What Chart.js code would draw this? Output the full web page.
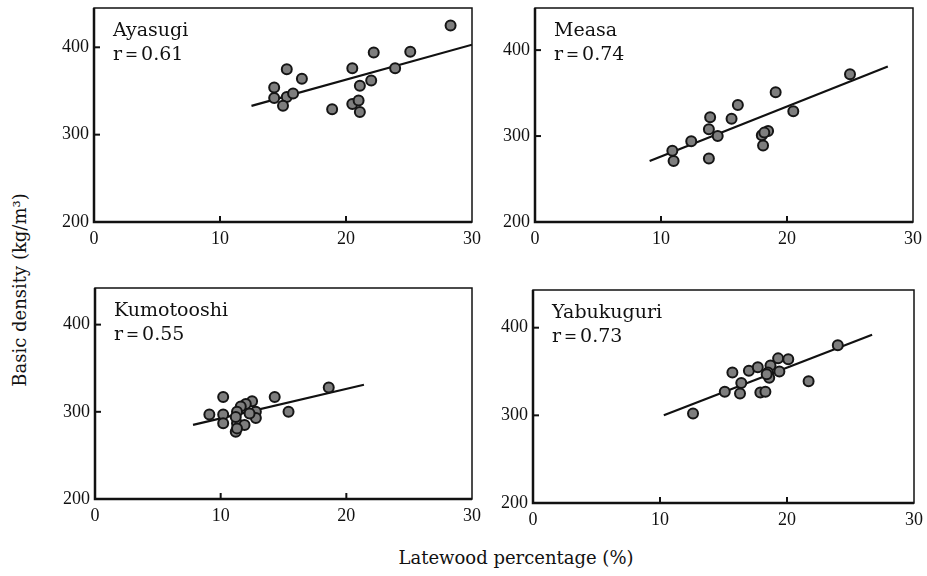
<!DOCTYPE html>
<html>
<head>
<meta charset="utf-8">
<script src="https://cdn.jsdelivr.net/npm/chart.js@4.4.1/dist/chart.umd.min.js"></script>
<style>
  html, body { margin:0; padding:0; background:#fff; }
  #wrap { position:relative; width:927px; height:576px; overflow:hidden; background:#fff; }
  canvas { position:absolute; }
  .ttl { position:absolute; font-family:"DejaVu Serif", serif; font-size:18px; color:#111; white-space:nowrap; }
</style>
</head>
<body>
<div id="wrap">
  <canvas id="c1" width="450" height="252" style="left:40px;top:0px"></canvas>
  <canvas id="c2" width="446" height="252" style="left:481px;top:0px"></canvas>
  <canvas id="c3" width="450" height="250" style="left:41px;top:280px"></canvas>
  <canvas id="c4" width="448" height="253" style="left:479px;top:280px"></canvas>
  <div class="ttl" id="ytitle" style="left:19px;top:290px;transform:translate(-50%,-50%) rotate(-90deg);">Basic density (kg/m³)</div>
  <div class="ttl" id="xtitle" style="left:516px;top:557px;transform:translate(-50%,-50%);">Latewood percentage (%)</div>
</div>
<script>
// ---------- data ----------
const panelNames = ["Ayasugi", "Measa", "Kumotooshi", "Yabukuguri"];
const panelR = ["r\uFF1D0.61", "r\uFF1D0.74", "r\uFF1D0.55", "r\uFF1D0.73"];
const xTickValues = [0, 10, 20, 30];
const yTickValues = [200, 300, 400];

const ayasugiLatewood = [28.3, 22.2, 25.1, 15.3, 20.5, 16.5, 23.9, 22.0, 14.3, 21.1, 14.3, 15.3, 15.8, 15.0, 18.9, 20.5, 21.0, 21.1];
const ayasugiDensity  = [425, 394, 395, 375, 376, 364, 376, 362, 354, 356, 342, 343, 347, 333, 329, 335, 339, 326];
const ayasugiFitX = [12.5, 30];
const ayasugiFitY = [333, 403];

const measaLatewood = [25.0, 19.1, 16.1, 13.9, 15.6, 20.5, 13.8, 14.5, 18.0, 18.5, 18.2, 12.4, 10.9, 11.0, 13.8, 18.1];
const measaDensity  = [372, 351, 336, 322, 320, 329, 308, 300, 301, 306, 304, 294, 283, 271, 274, 289];
const measaFitX = [9.1, 28.0];
const measaFitY = [271, 381];

const kumoLatewood = [18.6, 10.2, 14.3, 15.4, 9.1, 10.2, 10.2, 11.2, 11.3, 11.9, 12.5, 12.0, 11.6, 11.3, 11.2, 12.8, 12.8, 12.3, 11.3];
const kumoDensity  = [328, 317, 317, 300, 297, 297, 287, 277, 287, 285, 312, 309, 306, 300, 294, 300, 293, 298, 281];
const kumoFitX = [7.8, 21.4];
const kumoFitY = [285, 331];

const yabuLatewood = [24.0, 12.6, 15.1, 15.7, 16.4, 16.3, 17.0, 17.7, 17.9, 18.3, 18.7, 18.5, 18.6, 19.3, 20.1, 19.4, 21.7, 18.4];
const yabuDensity  = [380, 302, 327, 349, 337, 325, 351, 355, 326, 327, 357, 349, 343, 365, 364, 350, 339, 347];
const yabuFitX = [10.3, 26.7];
const yabuFitY = [300, 392];

// ---------- helpers ----------
function pts(xs, ys) { return xs.map((v, i) => ({ x: v, y: ys[i] })); }

const framePlugin = {
  id: 'frame',
  afterDatasetsDraw(chart, args, opts) {
    const { ctx, chartArea: a, scales: { x, y } } = chart;
    ctx.save();
    ctx.strokeStyle = '#111';
    ctx.lineWidth = 1.5;
    ctx.strokeRect(a.left, a.top, a.right - a.left, a.bottom - a.top);
    ctx.lineWidth = 2.5;
    ctx.beginPath();
    ctx.moveTo(a.left, a.top);
    ctx.lineTo(a.left, a.bottom);
    ctx.lineTo(a.right, a.bottom);
    ctx.stroke();
    ctx.lineWidth = 2;
    x.ticks.forEach(t => {
      if (t.value > x.min && t.value < x.max) {
        const px = x.getPixelForValue(t.value);
        ctx.beginPath(); ctx.moveTo(px, a.bottom); ctx.lineTo(px, a.bottom - 6); ctx.stroke();
      }
    });
    y.ticks.forEach(t => {
      if (t.value > y.min && t.value < y.max) {
        const py = y.getPixelForValue(t.value);
        ctx.beginPath(); ctx.moveTo(a.left, py); ctx.lineTo(a.left + 6, py); ctx.stroke();
      }
    });
    ctx.fillStyle = '#111';
    ctx.textBaseline = 'alphabetic';
    ctx.textAlign = 'left';
    ctx.font = '19px "DejaVu Serif"';
    ctx.fillText(opts.name, a.left + 19, a.top + 28);
    ctx.fillText(opts.r, a.left + 19, a.top + 52);
    ctx.restore();
  }
};

function makeChart(id, name, r, xs, ys, fx, fy, pad, yMax) {
  return new Chart(document.getElementById(id), {
    type: 'scatter',
    data: {
      datasets: [
        {
          data: pts(xs, ys),
          pointRadius: 5,
          pointHoverRadius: 5,
          backgroundColor: '#7e7e7e',
          borderColor: '#151515',
          borderWidth: 2,
          order: 1
        },
        {
          type: 'line',
          data: pts(fx, fy),
          borderColor: '#111',
          borderWidth: 2.2,
          pointRadius: 0,
          fill: false,
          order: 2
        }
      ]
    },
    options: {
      responsive: false,
      animation: false,
      devicePixelRatio: 1,
      layout: { padding: { left: pad.left, right: pad.right, top: pad.top, bottom: pad.bottom } },
      plugins: {
        legend: { display: false },
        tooltip: { enabled: false },
        frame: { name: name, r: r }
      },
      scales: {
        x: {
          type: 'linear',
          min: 0, max: 30,
          afterBuildTicks: s => { s.ticks = xTickValues.map(v => ({ value: v })); },
          afterFit: s => { s.height = pad.xh; s.paddingLeft = 0; s.paddingRight = 0; },
          grid: { display: false, drawTicks: false },
          border: { display: false },
          ticks: { padding: 6, color: '#111', font: { family: 'Liberation Serif', size: 18 }, maxRotation: 0 }
        },
        y: {
          type: 'linear',
          min: 200, max: yMax,
          afterBuildTicks: s => { s.ticks = yTickValues.map(v => ({ value: v })); },
          afterFit: s => { s.width = 54; s.paddingTop = 0; s.paddingBottom = 0; },
          grid: { display: false, drawTicks: false },
          border: { display: false },
          ticks: { padding: 5, color: '#111', font: { family: 'Liberation Serif', size: 18 } }
        }
      }
    },
    plugins: [framePlugin]
  });
}

makeChart('c1', panelNames[0], panelR[0], ayasugiLatewood, ayasugiDensity, ayasugiFitX, ayasugiFitY,
  { left: 0, right: 18, top: 8, bottom: 0, xh: 30 }, 445);
makeChart('c2', panelNames[1], panelR[1], measaLatewood, measaDensity, measaFitX, measaFitY,
  { left: 0, right: 14, top: 8, bottom: 0, xh: 30 }, 449);
makeChart('c3', panelNames[2], panelR[2], kumoLatewood, kumoDensity, kumoFitX, kumoFitY,
  { left: 0, right: 19, top: 8, bottom: 0, xh: 31 }, 442);
makeChart('c4', panelNames[3], panelR[3], yabuLatewood, yabuDensity, yabuFitX, yabuFitY,
  { left: 0, right: 13, top: 10, bottom: 0, xh: 30 }, 443);
</script>
</body>
</html>
